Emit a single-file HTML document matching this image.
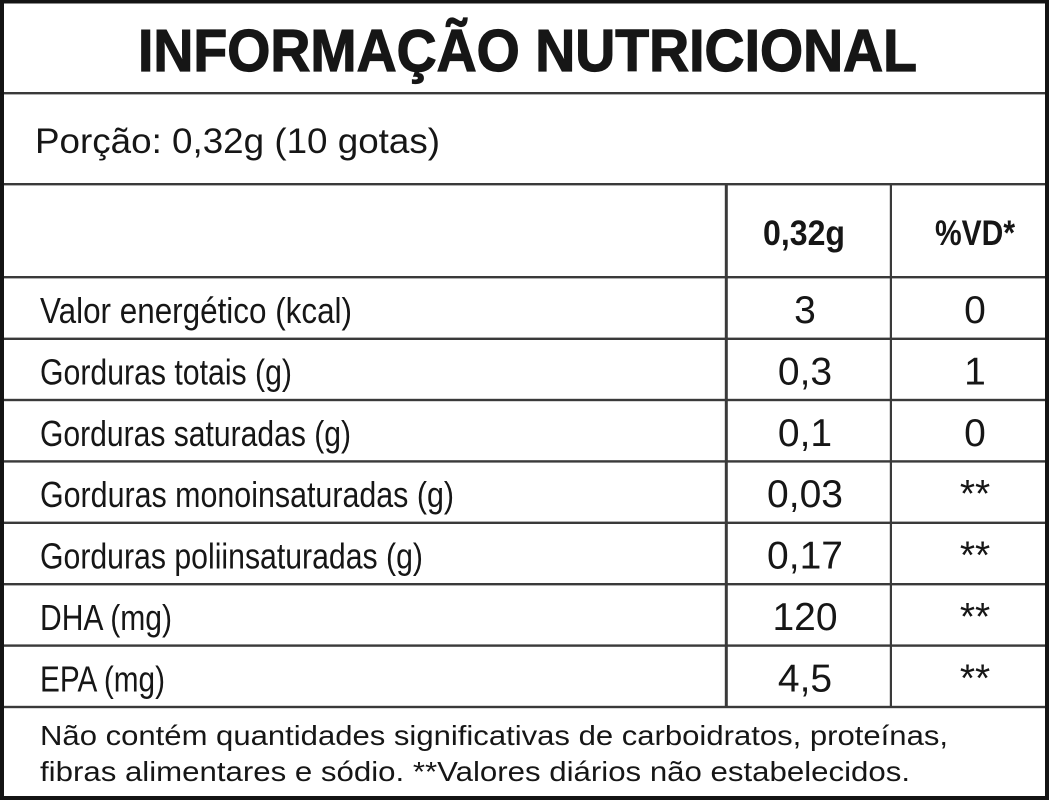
<!DOCTYPE html>
<html>
<head>
<meta charset="utf-8">
<style>
  html, body { margin: 0; padding: 0; background: #ffffff; }
  body { width: 1049px; height: 800px; overflow: hidden; }
  svg { display: block; }
  text { fill: #161616; font-family: "Liberation Sans", Arial, sans-serif; }
</style>
</head>
<body>
<svg width="1049" height="800" viewBox="0 0 1049 800" xmlns="http://www.w3.org/2000/svg">
  <rect x="0" y="0" width="1049" height="800" fill="#ffffff"/>

  <!-- horizontal rules -->
  <g fill="#3a3a3a">
    <rect x="0" y="92" width="1049" height="2.4"/>
    <rect x="0" y="183" width="1049" height="2.4"/>
    <rect x="0" y="276" width="1049" height="2.4"/>
    <rect x="0" y="337.6" width="1049" height="2.4"/>
    <rect x="0" y="398.8" width="1049" height="2.4"/>
    <rect x="0" y="460.2" width="1049" height="2.4"/>
    <rect x="0" y="521.6" width="1049" height="2.4"/>
    <rect x="0" y="583" width="1049" height="2.4"/>
    <rect x="0" y="644.4" width="1049" height="2.4"/>
    <rect x="0" y="705.8" width="1049" height="2.4"/>
  </g>
  <!-- vertical rules -->
  <g fill="#3a3a3a">
    <rect x="724.8" y="184" width="3" height="523"/>
    <rect x="889.8" y="184" width="2.2" height="523"/>
  </g>

  <!-- outer border -->
  <g fill="#141414">
    <rect x="0" y="0" width="1049" height="3.5"/>
    <rect x="0" y="796" width="1049" height="4"/>
    <rect x="0" y="0" width="4" height="800"/>
    <rect x="1045" y="0" width="4" height="800"/>
  </g>

  <!-- title -->
  <text x="138" y="71" font-size="59" font-weight="bold" stroke="#161616" stroke-width="1.2" textLength="779" lengthAdjust="spacingAndGlyphs">INFORMAÇÃO NUTRICIONAL</text>

  <!-- portion -->
  <text x="35" y="153" font-size="35" textLength="405" lengthAdjust="spacingAndGlyphs">Porção: 0,32g (10 gotas)</text>

  <!-- header -->
  <text x="763" y="245" font-size="35" font-weight="bold" textLength="82" lengthAdjust="spacingAndGlyphs">0,32g</text>
  <text x="935" y="245" font-size="35" font-weight="bold" textLength="80" lengthAdjust="spacingAndGlyphs">%VD*</text>

  <!-- row labels -->
  <g font-size="36">
    <text x="40" y="323" textLength="312" lengthAdjust="spacingAndGlyphs">Valor energético (kcal)</text>
    <text x="40" y="384.4" textLength="252" lengthAdjust="spacingAndGlyphs">Gorduras totais (g)</text>
    <text x="40" y="445.8" textLength="311" lengthAdjust="spacingAndGlyphs">Gorduras saturadas (g)</text>
    <text x="40" y="507.2" textLength="414" lengthAdjust="spacingAndGlyphs">Gorduras monoinsaturadas (g)</text>
    <text x="40" y="568.6" textLength="383" lengthAdjust="spacingAndGlyphs">Gorduras poliinsaturadas (g)</text>
    <text x="40" y="630" textLength="132" lengthAdjust="spacingAndGlyphs">DHA (mg)</text>
    <text x="40" y="691.4" textLength="125" lengthAdjust="spacingAndGlyphs">EPA (mg)</text>
  </g>

  <!-- values -->
  <g font-size="39" text-anchor="middle">
    <text x="805" y="323">3</text>
    <text x="805" y="384.4">0,3</text>
    <text x="805" y="445.8">0,1</text>
    <text x="805" y="507.2">0,03</text>
    <text x="805" y="568.6">0,17</text>
    <text x="805" y="630">120</text>
    <text x="805" y="691.4">4,5</text>

    <text x="975" y="323">0</text>
    <text x="975" y="384.4">1</text>
    <text x="975" y="445.8">0</text>
    <text x="975" y="507.2">**</text>
    <text x="975" y="568.6">**</text>
    <text x="975" y="630">**</text>
    <text x="975" y="691.4">**</text>
  </g>

  <!-- footer -->
  <g font-size="28">
    <text x="40" y="745" textLength="908" lengthAdjust="spacingAndGlyphs">Não contém quantidades significativas de carboidratos, proteínas,</text>
    <text x="40" y="781" textLength="870" lengthAdjust="spacingAndGlyphs">fibras alimentares e sódio. **Valores diários não estabelecidos.</text>
  </g>
</svg>
</body>
</html>
